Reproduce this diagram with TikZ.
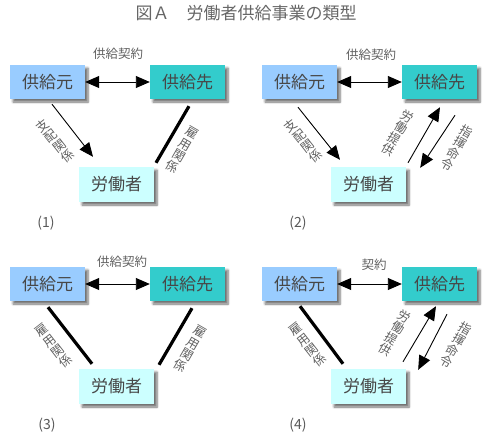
\documentclass[tikz,border=0pt]{standalone}
\usepackage{fontspec}
\setmainfont{Noto Sans CJK JP}
\usetikzlibrary{arrows.meta,shadows.blur}
\definecolor{srcblue}{HTML}{99CCFF}
\definecolor{dstteal}{HTML}{33CCCC}
\definecolor{wrkcyan}{HTML}{CCFFFF}
\begin{document}
\begin{tikzpicture}[x=1pt,y=-1pt,
  box/.style={minimum width=75pt,minimum height=34pt,inner sep=0pt,
    font=\fontsize{17}{17}\selectfont,text=black!72,
    blur shadow={shadow xshift=3pt,shadow yshift=-3pt,shadow blur steps=6,shadow opacity=55}},
  srcbox/.style={box,fill=srcblue},
  dstbox/.style={box,fill=dstteal},
  wrkbox/.style={box,fill=wrkcyan,minimum height=35pt},
  lab/.style={font=\fontsize{12.5}{13}\selectfont,text=black!62,inner sep=0pt},
  vlab/.style={lab,align=center},
  num/.style={font=\fontsize{14}{14}\selectfont,text=black!65,inner sep=0pt},
  conn/.style={line width=0.9pt},
  tip/.tip={Triangle[length=14pt,width=12pt]},
  arr/.style={conn,-tip},
  darr/.style={conn,tip-tip},
  bond/.style={line width=3.2pt}]
\useasboundingbox (0,0) rectangle (493,437);
\node[font=\fontsize{17}{17}\selectfont,text=black!60] (title) at (246,13) {図Ａ　労働者供給事業の類型};

% ---------- panel 1
\begin{scope}[shift={(0,0)}]
\node[srcbox] (a1) at (47.5,82) {供給元};
\node[dstbox] (b1) at (187.5,82) {供給先};
\node[wrkbox] (c1) at (116.5,184.5) {労働者};
\draw[darr] (a1.east) -- (b1.west);
\node[lab] (k1) at (118,54) {供給契約};
\draw[arr] ([shift={(4.5,5)}]a1.south) -- ([shift={(-23.5,-10)}]c1.north);
\draw[bond] ([shift={(1.5,7)}]b1.south) -- ([shift={(39.5,-4)}]c1.north);
\node[vlab,rotate=38] (l1) at (55,141) {支\\配\\関\\係};
\node[vlab,rotate=-30] (r1) at (182,150) {雇\\用\\関\\係};
\node[num] (n1) at (46,223) {(1)};
\end{scope}

% ---------- panel 2
\begin{scope}[shift={(252,0)}]
\node[srcbox] (a2) at (47.5,82) {供給元};
\node[dstbox] (b2) at (187.5,82) {供給先};
\node[wrkbox] (c2) at (116.5,184.5) {労働者};
\draw[darr] (a2.east) -- (b2.west);
\node[lab] (k2) at (119,55) {供給契約};
\draw[arr] ([shift={(-1.5,8)}]a2.south) -- ([shift={(-28.5,-7)}]c2.north);
\draw[arr] ([shift={(39.5,-4)}]c2.north) -- ([shift={(0.5,8)}]b2.south);
\draw[arr] ([shift={(15.5,16)}]b2.south) -- ([shift={(14,1)}]c2.north east);
\node[vlab,rotate=38] (l2) at (51,141) {支\\配\\関\\係};
\node[vlab,rotate=-30] (m2) at (146,133) {労\\働\\提\\供};
\node[vlab,rotate=-30] (r2) at (205,148) {指\\揮\\命\\令};
\node[num] (n2) at (46,223) {(2)};
\end{scope}

% ---------- panel 3
\begin{scope}[shift={(0,202)}]
\node[srcbox] (a3) at (47.5,82) {供給元};
\node[dstbox] (b3) at (187.5,82) {供給先};
\node[wrkbox] (c3) at (116.5,184.5) {労働者};
\draw[darr] (a3.east) -- (b3.west);
\node[lab] (k3) at (122,60) {供給契約};
\draw[bond] ([shift={(0.5,6)}]a3.south) -- ([shift={(-24.5,-5)}]c3.north);
\draw[bond] ([shift={(4.5,7)}]b3.south) -- ([shift={(42.5,-4)}]c3.north);
\node[vlab,rotate=38] (l3) at (54,144) {雇\\用\\関\\係};
\node[vlab,rotate=-30] (r3) at (190,147) {雇\\用\\関\\係};
\node[num] (n3) at (47,223) {(3)};
\end{scope}

% ---------- panel 4
\begin{scope}[shift={(252,202)}]
\node[srcbox] (a4) at (47.5,82) {供給元};
\node[dstbox] (b4) at (187.5,82) {供給先};
\node[wrkbox] (c4) at (116.5,184.5) {労働者};
\draw[darr] (a4.east) -- (b4.west);
\node[lab] (k4) at (122,63) {契約};
\draw[bond] ([shift={(0.5,5)}]a4.south) -- ([shift={(-25.5,-5)}]c4.north);
\draw[arr] ([shift={(34.5,-7)}]c4.north) -- ([shift={(-3.5,5)}]b4.south);
\draw[arr] ([shift={(7.5,13)}]b4.south) -- ([shift={(12,1)}]c4.north east);
\node[vlab,rotate=38] (l4) at (56,143) {雇\\用\\関\\係};
\node[vlab,rotate=-30] (m4) at (143,131) {労\\働\\提\\供};
\node[vlab,rotate=-30] (r4) at (204,143) {指\\揮\\命\\令};
\node[num] (n4) at (46,223) {(4)};
\end{scope}
\end{tikzpicture}
\end{document}
